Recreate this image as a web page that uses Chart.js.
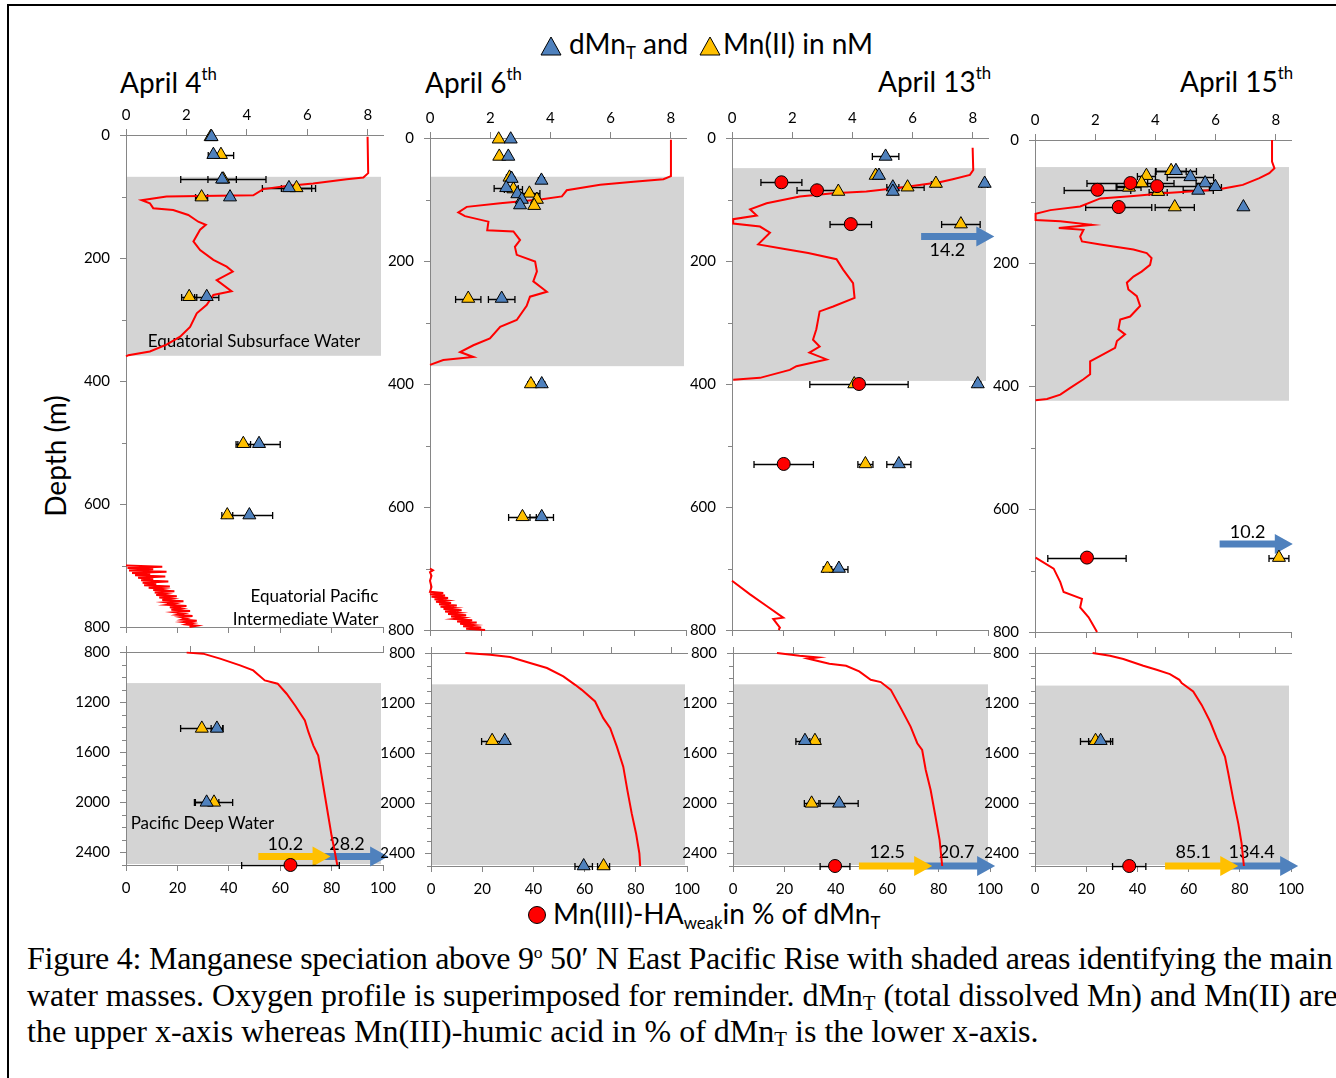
<!DOCTYPE html>
<html lang="en"><head><meta charset="utf-8">
<title>Figure 4 – Manganese speciation above 9°50′N East Pacific Rise</title>
<script src="https://cdn.jsdelivr.net/npm/chart.js@4.4.1/dist/chart.umd.min.js"></script>
<style>
html,body{margin:0;padding:0;background:#fff}
body{width:1336px;height:1078px;position:relative;overflow:hidden;font-family:Lato,"Open Sans",sans-serif;color:#000}
#frame{position:absolute;left:7px;top:4px;width:1400px;height:1200px;border-left:2px solid #000;border-top:2px solid #000;box-sizing:border-box}
canvas{position:absolute}
.lbl{position:absolute;white-space:nowrap;line-height:1}
.big{font-size:28px}
.lbl sub{font-size:0.6em;line-height:0;vertical-align:-0.28em}
.lbl sup{font-size:0.6em;line-height:0;vertical-align:0.75em}
#cap{position:absolute;left:27px;top:940px;font-family:"Liberation Serif","Times New Roman",serif;font-size:32px;line-height:36.5px;white-space:nowrap}
#cap sub{font-size:0.65em;line-height:0;vertical-align:-0.2em}
#cap sup{font-size:0.55em;line-height:0;vertical-align:0.65em}
</style>
</head>
<body>
<div id="frame"></div>

<svg class="lbl" style="left:540px;top:36px" width="22" height="20"><polygon points="11,1 21,19 1,19" fill="#4F81BD" stroke="#000" stroke-width="1"/></svg>
<div class="lbl big" style="left:569px;top:29px">dMn<sub>T</sub> and</div>
<svg class="lbl" style="left:699px;top:36px" width="22" height="20"><polygon points="11,1 21,19 1,19" fill="#FFC000" stroke="#000" stroke-width="1"/></svg>
<div class="lbl big" style="left:723px;top:29px">Mn(II) in nM</div>

<div class="lbl big" style="left:120px;top:68px">April 4<sup>th</sup></div>
<div class="lbl big" style="left:425px;top:68px">April 6<sup>th</sup></div>
<div class="lbl big" style="left:878px;top:67px">April 13<sup>th</sup></div>
<div class="lbl big" style="left:1180px;top:67px">April 15<sup>th</sup></div>

<div class="lbl big" style="left:55px;top:456px;transform:translate(-50%,-50%) rotate(-90deg)">Depth (m)</div>

<svg class="lbl" style="left:527px;top:905px" width="20" height="20"><circle cx="10" cy="10" r="8.5" fill="#FF0000" stroke="#000" stroke-width="1"/></svg>
<div class="lbl big" style="left:553px;top:899px">Mn(III)-HA<sub>weak</sub>in % of dMn<sub>T</sub></div>

<div id="cap"><span style="letter-spacing:-0.25px">Figure 4: Manganese speciation above 9<sup>o</sup> 50′ N East Pacific Rise with shaded areas identifying the main</span><br><span style="letter-spacing:-0.05px">water masses. Oxygen profile is superimposed for reminder. dMn<sub>T</sub> (total dissolved Mn) and Mn(II) are</span><br><span>the upper x-axis whereas Mn(III)-humic acid in % of dMn<sub>T</sub> is the lower x-axis.</span></div>

<script>
// ---------- tick labels ----------
const nMTicks = [0, 2, 4, 6, 8];
const pctTicks = [0, 20, 40, 60, 80, 100];
const depthTicksUpper = [0, 200, 400, 600, 800];
const depthTicksDeep = [800, 1200, 1600, 2000, 2400];
const depthMinorUpper = [100, 300, 500, 700];
const depthMinorDeep = [900, 1000, 1100, 1300, 1400, 1500, 1700, 1800, 1900, 2100, 2200, 2300, 2500];

// ---------- water-mass depth ranges (m) ----------
const shadeUpper = [[68, 359], [63, 371], [49, 395], [44, 424]];
const shadeDeep = [[1048, 2500], [1050, 2500], [1050, 2500], [1060, 2500]];

// ---------- data: [depth m, value, error] ; dMnT & Mn(II) in nM, Mn(III)-HA in % ----------
// April 4
const a4_dMn = [[3,2.83,0],[32,2.89,0],[72,3.18,0.47],[86,5.39,0.88],[101,3.44,0],[263,2.67,0.4],[502,4.40,0.7],[618,4.08,0.77]];
const a4_MnII = [[3,2.80,0.1],[32,3.14,0.42],[72,3.22,1.41],[86,5.64,0.5],[101,2.50,0.2],[263,2.09,0.25],[502,3.88,0.24],[618,3.35,0.18]];
const a4_dMn_deep = [[1410,2.83,0.18],[2000,2.51,0.38]];
const a4_MnII_deep = [[1410,2.36,0.66],[2000,2.74,0.58]];
const a4_MnIII_deep = [[2500,64,19]];
const a4_offscaleDeep = [10.2, 28.2];
// April 6
const a6_dMn = [[2,2.68,0],[30,2.60,0],[66,2.71,0.1],[69,3.70,0.1],[81,2.53,0.4],[91,2.90,0],[100,3.05,0],[109,2.99,0],[261,2.38,0.44],[400,3.71,0.1],[616,3.71,0.39]];
const a6_MnII = [[2,2.28,0],[30,2.30,0],[64,2.64,0.1],[83,2.77,0.3],[90,3.30,0.35],[100,3.55,0.1],[110,3.46,0],[261,1.27,0.42],[400,3.35,0.1],[616,3.07,0.46]];
const a6_dMn_deep = [[1500,2.45,0.1],[2500,5.07,0.29]];
const a6_MnII_deep = [[1500,2.03,0.35],[2500,5.73,0.2]];
// April 13
const a13_dMn = [[30,5.10,0.44],[61,4.88,0.1],[74,8.39,0.1],[80,5.34,0.2],[87,5.34,0],[400,8.16,0.1],[530,5.54,0.4],[700,3.55,0.3]];
const a13_MnII = [[61,4.77,0.1],[74,6.77,0.15],[80,5.83,0.55],[87,3.53,0],[140,7.60,0.64],[400,4.06,0],[530,4.43,0.25],[700,3.17,0.14]];
const a13_MnIII = [[72,19.3,8],[85,33.2,7.8],[140,46.4,8.1],[400,49.6,19.2],[530,20.2,11.6]];
const a13_offscale = [14.2];
const a13_dMn_deep = [[1500,2.38,0.3],[2000,3.51,0.63]];
const a13_MnII_deep = [[1500,2.71,0.17],[2000,2.60,0.24]];
const a13_MnIII_deep = [[2500,39.7,5.8]];
const a13_offscaleDeep = [12.5, 20.7];
// April 15
const a15_dMn = [[50,4.68,0.68],[60,5.16,0.77],[70,5.65,0.3],[76,5.99,0.2],[82,5.42,0.5],[109,6.92,0]];
const a15_MnII = [[50,4.52,0.5],[58,3.70,0.3],[70,3.54,0.2],[77,3.12,0.4],[84,4.09,0.3],[109,4.64,0.65],[679,8.10,0.33]];
const a15_MnIII = [[70,37.3,17],[75,47.7,16],[81,24.4,13],[109,32.7,12.9],[679,20.3,15.3]];
const a15_offscale = [10.2];
const a15_dMn_deep = [[1500,2.18,0.4]];
const a15_MnII_deep = [[1500,2.01,0.5]];
const a15_MnIII_deep = [[2500,36.8,6.5]];
const a15_offscaleDeep = [85.1, 134.4];

// ---------- oxygen profiles: [depth m, value] ----------
const a4_O2 = [[3,7.99],[62,8.01],[69,7.85],[72,7.3],[79,6.19],[83,5.31],[88,4.54],[98,4.21],[99,2.45],[100,1.34],[106,0.52],[111,0.79],[119,0.90],[122,1.56],[130,2.06],[141,2.39],[146,2.64],[154,2.45],[173,2.23],[187,2.45],[203,2.89],[214,3.33],[222,3.53],[236,3.0],[254,3.49],[260,2.89],[276,2.67],[290,2.34],[312,2.12],[328,1.79],[341,1.34],[352,0.79],[358,0.08],[360,0.0]];
const a4_O2b = [[700,0.0],[702,1.2],[704,0.05],[706,0.9],[708,0.1],[710,1.34],[712,0.2],[714,0.8],[716,0.3],[718,1.3],[720,0.4],[722,0.9],[724,0.5],[726,1.4],[728,0.55],[730,1.0],[732,0.6],[734,1.45],[736,0.75],[738,1.2],[740,0.9],[742,1.6],[744,0.95],[746,1.3],[748,1.0],[750,1.68],[752,1.1],[754,1.5],[756,1.2],[758,1.9],[760,1.3],[762,1.6],[764,1.35],[766,2.0],[768,1.45],[770,1.8],[772,1.5],[774,2.12],[776,1.6],[778,1.9],[780,1.7],[782,2.2],[784,1.8],[786,2.0],[788,1.85],[790,2.34],[792,1.9],[794,2.2],[796,2.0],[798,2.34],[800,2.1]];
const a4_O2_deep = [[805,23.6],[813,30],[853,36.6],[907,44.4],[947,49.5],[1027,54],[1053,59],[1133,62.5],[1227,65.8],[1347,69.6],[1440,71],[1547,72.9],[1627,74.8],[1787,76.1],[1947,77.4],[2107,78.7],[2267,80],[2400,81.3],[2500,82.2]];
const a6_O2 = [[3,8.0],[62,8.0],[67,7.75],[71,6.76],[76,5.65],[85,4.54],[95,4.38],[100,3.66],[106,2.33],[112,1.22],[121,0.94],[127,1.16],[136,1.94],[150,1.90],[152,2.77],[166,2.99],[177,2.82],[190,2.88],[201,3.49],[217,3.55],[233,3.43],[250,3.88],[258,3.32],[273,3.21],[296,2.88],[307,2.33],[326,1.99],[337,1.44],[348,1.0],[356,1.44],[361,0.44],[369,0.0]];
const a6_O2b = [[700,0.0],[703,0.1],[706,0.0],[712,0.05],[720,0.0],[730,0.05],[738,0.0],[740,0.44],[742,0.0],[744,0.5],[746,0.05],[748,0.6],[750,0.15],[752,0.55],[754,0.2],[756,0.7],[758,0.3],[760,0.89],[762,0.35],[764,0.8],[766,0.45],[768,1.05],[770,0.5],[772,0.95],[774,0.6],[776,1.2],[778,0.7],[780,1.1],[782,0.8],[784,1.4],[786,0.9],[788,1.55],[790,1.0],[792,1.45],[794,1.1],[796,1.7],[798,1.2],[800,1.83]];
const a6_O2_deep = [[800,13.4],[814,23.1],[832,30.9],[880,38.7],[920,45.3],[987,51.7],[1054,56.3],[1094,58.9],[1187,64.1],[1320,67.3],[1400,70],[1547,72.6],[1707,75.1],[1894,76.7],[2080,78.4],[2240,80.1],[2400,81.4],[2500,81.7]];
const a13_O2 = [[16,7.99],[52,8.01],[60,7.9],[67,7.33],[72,6.89],[81,5.56],[87,4.46],[90,3.36],[95,2.25],[106,1.15],[116,0.60],[126,0.82],[132,0.04],[139,0.04],[144,0.93],[154,1.26],[173,0.87],[180,1.70],[187,2.53],[197,3.47],[214,3.69],[236,4.02],[260,4.07],[274,3.36],[282,2.91],[311,2.80],[328,2.69],[339,2.91],[349,2.57],[360,3.14],[371,2.14],[377,1.92],[390,0.93],[393,0.04]];
const a13_O2b = [[720,0.0],[742,0.6],[761,1.15],[780,1.70],[782,1.37],[796,1.59],[800,1.55]];
const a13_O2_deep = [[800,17.1],[822,25.9],[835,32.9],[845,29.1],[854,31],[886,37.5],[902,44],[947,49.1],[1014,53.6],[1032,57.5],[1094,61.4],[1240,65.3],[1387,69.1],[1520,71.7],[1574,73.6],[1734,75],[1894,76.9],[2107,78.8],[2294,80.4],[2500,81.4]];
const a15_O2 = [[0,7.87],[35,7.87],[46,7.95],[54,7.78],[62,7.45],[73,6.90],[76,6.57],[81,6.02],[86,4.37],[91,3.27],[95,2.17],[108,1.50],[114,0.51],[120,0.02],[130,0.02],[132,0.84],[138,1.89],[143,0.79],[146,1.61],[157,1.50],[165,1.56],[170,2.17],[178,3.27],[184,3.71],[192,3.87],[203,3.82],[214,3.54],[222,3.27],[232,3.05],[243,3.10],[254,3.38],[270,3.49],[287,3.16],[292,2.83],[308,2.77],[316,2.99],[327,2.72],[338,2.66],[351,2.17],[360,1.83],[381,1.83],[389,1.61],[403,1.17],[414,0.84],[421,0.40],[423,0.02]];
const a15_O2b = [[679,0.02],[697,0.62],[719,0.84],[735,0.95],[746,1.56],[760,1.50],[776,1.78],[800,2.06]];
const a15_O2_deep = [[800,22.5],[822,29.3],[848,34.5],[902,42.3],[934,47.5],[968,52.7],[1014,56.4],[1040,57.3],[1107,61.8],[1214,65.1],[1347,68.4],[1480,71],[1627,74.2],[1760,75.5],[1974,77.5],[2160,79.4],[2320,80.7],[2500,81.6]];

// ---------- styles ----------
const BLUE = '#4F81BD', YELLOW = '#FFC000', RED = '#FF0000', AXIS = '#868686', SHADE = '#D4D4D4';
const PADL = 70, PADT = 40, PADR = 30, PADB = 40;
Chart.defaults.font.family = 'Lato, "Open Sans", sans-serif';
const fmt = v => v.toFixed(1);

const panels = [
  {id:'c1', zone:'upper', box:[126,135,257,492], xMax:8.5, dMn:a4_dMn, MnII:a4_MnII, MnIII:null, o2:[a4_O2,a4_O2b], shade:shadeUpper[0],
   texts:[{s:'Equatorial Subsurface Water',ax:'x',x:0.72,d:336,align:'left',size:17},
          {s:'Equatorial Pacific',ax:'x',x:8.35,d:751,align:'right',size:17},
          {s:'Intermediate Water',ax:'x',x:8.35,d:788,align:'right',size:17}], arrows:[]},
  {id:'c2', zone:'upper', box:[430,138,256,492], xMax:8.5, dMn:a6_dMn, MnII:a6_MnII, MnIII:null, o2:[a6_O2,a6_O2b], shade:shadeUpper[1], texts:[], arrows:[]},
  {id:'c3', zone:'upper', box:[732,138,256,492], xMax:8.5, dMn:a13_dMn, MnII:a13_MnII, MnIII:a13_MnIII, o2:[a13_O2,a13_O2b], shade:shadeUpper[2],
   texts:[{s:fmt(a13_offscale[0]),ax:'x',x:7.15,d:182,align:'center',size:18}],
   arrows:[{ax:'x',x1:6.28,x2:8.71,d:160,color:BLUE}]},
  {id:'c4', zone:'upper', box:[1035,140,256,492], xMax:8.5, dMn:a15_dMn, MnII:a15_MnII, MnIII:a15_MnIII, o2:[a15_O2,a15_O2b], shade:shadeUpper[3],
   texts:[{s:fmt(a15_offscale[0]),ax:'x',x:7.06,d:638,align:'center',size:18}],
   arrows:[{ax:'x',x1:6.13,x2:8.56,d:657,color:BLUE}]},
  {id:'c5', zone:'deep', box:[126,652,257,213], xMax:8, dMn:a4_dMn_deep, MnII:a4_MnII_deep, MnIII:a4_MnIII_deep, o2:[a4_O2_deep], shade:shadeDeep[0],
   texts:[{s:'Pacific Deep Water',ax:'x2',x:1.8,d:2170,align:'left',size:17},
          {s:fmt(a4_offscaleDeep[0]),ax:'x2',x:62,d:2330,align:'center',size:18},
          {s:fmt(a4_offscaleDeep[1]),ax:'x2',x:86,d:2330,align:'center',size:18}],
   arrows:[{ax:'x2',x1:76,x2:102,d:2432,color:BLUE},{ax:'x2',x1:51.5,x2:79.6,d:2432,color:YELLOW}]},
  {id:'c6', zone:'deep', box:[431,653,256,213], xMax:8.5, dMn:a6_dMn_deep, MnII:a6_MnII_deep, MnIII:null, o2:[a6_O2_deep], shade:shadeDeep[1], texts:[], arrows:[]},
  {id:'c7', zone:'deep', box:[733,653,257,213], xMax:8.5, dMn:a13_dMn_deep, MnII:a13_MnII_deep, MnIII:a13_MnIII_deep, o2:[a13_O2_deep], shade:shadeDeep[2],
   texts:[{s:fmt(a13_offscaleDeep[0]),ax:'x2',x:60,d:2390,align:'center',size:18},
          {s:fmt(a13_offscaleDeep[1]),ax:'x2',x:87,d:2390,align:'center',size:18}],
   arrows:[{ax:'x2',x1:74,x2:102,d:2500,color:BLUE},{ax:'x2',x1:49,x2:77.5,d:2500,color:YELLOW}]},
  {id:'c8', zone:'deep', box:[1035,653,256,213], xMax:8.5, dMn:a15_dMn_deep, MnII:a15_MnII_deep, MnIII:a15_MnIII_deep, o2:[a15_O2_deep], shade:shadeDeep[3],
   texts:[{s:fmt(a15_offscaleDeep[0]),ax:'x2',x:61.8,d:2390,align:'center',size:18},
          {s:fmt(a15_offscaleDeep[1]),ax:'x2',x:84.6,d:2390,align:'center',size:18}],
   arrows:[{ax:'x2',x1:76,x2:102.8,d:2500,color:BLUE},{ax:'x2',x1:50.8,x2:79.4,d:2500,color:YELLOW}]}
];
const decoById = {};

const decoPlugin = {
  id: 'deco',
  beforeDatasetsDraw(chart) {
    const p = decoById[chart.canvas.id]; if (!p) return;
    const ctx = chart.ctx, ca = chart.chartArea, ys = chart.scales.y;
    ctx.save();
    // shaded water mass
    const y1 = ys.getPixelForValue(p.shade[0]);
    const y2 = Math.min(ys.getPixelForValue(p.shade[1]), ca.bottom - 1);
    ctx.fillStyle = SHADE;
    ctx.fillRect(ca.left + 1, y1, ca.right - ca.left - 3, y2 - y1);
    // minor depth ticks
    ctx.strokeStyle = AXIS; ctx.lineWidth = 1;
    const minors = p.zone === 'upper' ? depthMinorUpper : depthMinorDeep;
    ctx.beginPath();
    minors.forEach(v => { const y = Math.round(ys.getPixelForValue(v)) + 0.5; ctx.moveTo(ca.left - 4, y); ctx.lineTo(ca.left, y); });
    ctx.stroke();
    // texts
    p.texts.forEach(t => {
      const xs = chart.scales[t.ax];
      ctx.fillStyle = '#000'; ctx.font = t.size + 'px Lato, "Open Sans", sans-serif';
      ctx.textAlign = t.align; ctx.textBaseline = 'middle';
      ctx.fillText(t.s, xs.getPixelForValue(t.x), ys.getPixelForValue(t.d));
    });
    // arrows
    p.arrows.forEach(a => {
      const xs = chart.scales[a.ax];
      const xa = xs.getPixelForValue(a.x1), xb = xs.getPixelForValue(a.x2), y = ys.getPixelForValue(a.d);
      const hl = 18, hh = 10, bh = 3.5;
      ctx.fillStyle = a.color;
      ctx.beginPath();
      ctx.moveTo(xa, y - bh); ctx.lineTo(xb - hl, y - bh); ctx.lineTo(xb - hl, y - hh);
      ctx.lineTo(xb, y); ctx.lineTo(xb - hl, y + hh); ctx.lineTo(xb - hl, y + bh); ctx.lineTo(xa, y + bh);
      ctx.closePath(); ctx.fill();
    });
    // error bars
    ctx.strokeStyle = '#000'; ctx.lineWidth = 1.3;
    chart.data.datasets.forEach(ds => {
      if (!ds.errs) return;
      const xs = chart.scales[ds.xAxisID];
      ds.data.forEach((pt, i) => {
        const e = ds.errs[i]; if (!e) return;
        const y = Math.round(ys.getPixelForValue(pt.y)) + 0.5;
        const xa = xs.getPixelForValue(pt.x - e), xb = xs.getPixelForValue(pt.x + e);
        ctx.beginPath();
        ctx.moveTo(xa, y); ctx.lineTo(xb, y);
        ctx.moveTo(xa, y - 3.5); ctx.lineTo(xa, y + 3.5);
        ctx.moveTo(xb, y - 3.5); ctx.lineTo(xb, y + 3.5);
        ctx.stroke();
      });
    });
    ctx.restore();
  }
};

function pts(rows) { return rows.map(r => ({x: r[1], y: r[0]})); }
function errs(rows) { return rows.map(r => r[2]); }

function axisStyle() {
  return {
    grid: {drawOnChartArea: false, drawTicks: true, tickLength: 6, color: AXIS, tickColor: AXIS, lineWidth: 1},
    border: {display: true, color: AXIS, width: 1}
  };
}

function buildChart(p) {
  const [L, T, W, H] = p.box;
  const cv = document.createElement('canvas');
  cv.id = p.id;
  cv.width = PADL + W + PADR; cv.height = PADT + H + PADB;
  cv.style.left = (L - PADL) + 'px'; cv.style.top = (T - PADT) + 'px';
  document.body.appendChild(cv);
  decoById[p.id] = p;
  const upper = p.zone === 'upper';
  const o2Axis = upper ? 'x' : 'x2';
  const datasets = [];
  p.o2.forEach(seg => datasets.push({label: 'O2', data: pts(seg), xAxisID: o2Axis, yAxisID: 'y', showLine: true,
    pointRadius: 0, borderColor: RED, borderWidth: 2, tension: 0, order: 10, clip: false}));
  datasets.push({label: 'Mn(II)', data: pts(p.MnII), errs: errs(p.MnII), xAxisID: 'x', yAxisID: 'y', pointStyle: 'triangle',
    pointRadius: 7.5, backgroundColor: YELLOW, borderColor: '#000', borderWidth: 1, order: 3, clip: false});
  datasets.push({label: 'dMnT', data: pts(p.dMn), errs: errs(p.dMn), xAxisID: 'x', yAxisID: 'y', pointStyle: 'triangle',
    pointRadius: 7.5, backgroundColor: BLUE, borderColor: '#000', borderWidth: 1, order: 2, clip: false});
  if (p.MnIII) datasets.push({label: 'Mn(III)-HAweak', data: pts(p.MnIII), errs: errs(p.MnIII), xAxisID: 'x2', yAxisID: 'y',
    pointStyle: 'circle', pointRadius: 6.5, backgroundColor: RED, borderColor: '#000', borderWidth: 1, order: 1, clip: false});

  const majors = upper ? depthTicksUpper : depthTicksDeep;
  new Chart(cv, {
    type: 'scatter',
    data: {datasets},
    options: {
      responsive: false, animation: false, events: [],
      layout: {padding: {left: 0, top: 0, right: PADR, bottom: 0}},
      plugins: {legend: {display: false}, tooltip: {enabled: false}},
      scales: {
        x: Object.assign({type: 'linear', position: 'top', min: 0, max: p.xMax,
          afterBuildTicks: s => { s.ticks = nMTicks.map(v => ({value: v})); },
          afterFit: s => { s.height = PADT; },
          ticks: {display: upper, color: '#000', font: {size: 15}, padding: 5, autoSkip: false, maxRotation: 0, callback: v => String(v)}}, axisStyle()),
        x2: Object.assign({type: 'linear', position: 'bottom', min: 0, max: 100,
          afterBuildTicks: s => { s.ticks = pctTicks.map(v => ({value: v})); },
          afterFit: s => { s.height = PADB; },
          ticks: {display: !upper, color: '#000', font: {size: 15}, padding: 8, autoSkip: false, maxRotation: 0, callback: v => String(v)}}, axisStyle()),
        y: Object.assign({type: 'linear', position: 'left', reverse: true,
          min: upper ? 0 : 800, max: upper ? 800 : 2500,
          afterBuildTicks: s => { s.ticks = majors.map(v => ({value: v})); },
          afterFit: s => { s.width = PADL; },
          ticks: {color: '#000', font: {size: 15}, padding: 10, autoSkip: false, callback: v => String(v)}}, axisStyle())
      }
    },
    plugins: [decoPlugin]
  });
}

panels.forEach(buildChart);
</script>
</body></html>
